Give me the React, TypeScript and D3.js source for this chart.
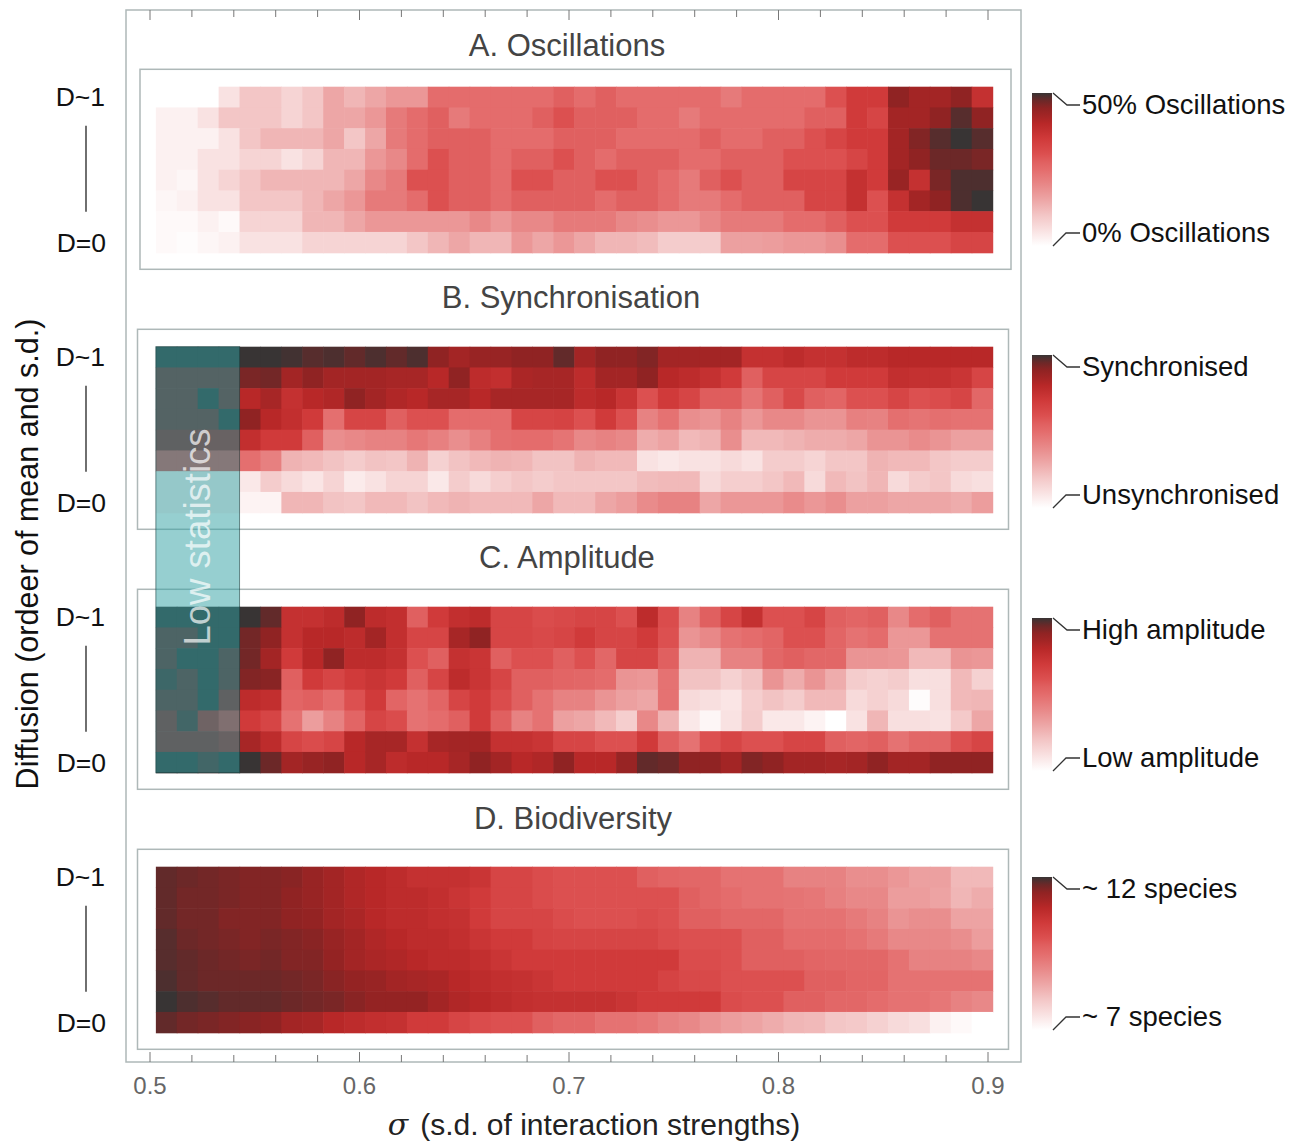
import React from "react";
import * as d3 from "d3";

// values on a 0..10 colour index (0 = white, 10 = dark grey), rows top (D~1) to bottom (D=0)
const oscillations = [
  [0, 0, 0, 1, 2, 2, 1.5, 2, 3, 2.5, 3, 3.5, 3.5, 5, 5, 5, 5, 5, 5, 5.5, 5, 5.5, 5, 5, 5, 5, 5, 4.5, 5, 5, 5, 5, 6, 7, 7, 9, 8.5, 8.5, 9, 7.5],
  [0.5, 0.5, 1, 2, 2, 2, 1.5, 2, 3, 3, 3.5, 4.5, 5, 5.5, 4.5, 5, 5, 5, 5.5, 6, 5.5, 5.5, 5.5, 5, 5, 4.5, 5, 5, 5, 5, 5, 5.5, 5.5, 7, 6.5, 8.5, 8.5, 9, 9.7, 9],
  [0.5, 0.5, 0.5, 1, 2, 2.5, 2.5, 2.5, 3, 2, 3, 4.5, 5, 5.5, 5.5, 5.5, 5, 5, 5, 5.5, 5.5, 5.5, 5, 5, 5, 5, 5.5, 5, 5, 5.5, 5.5, 6, 6.5, 7, 7, 8.5, 9.2, 9.7, 10, 9.7],
  [0.5, 0.5, 1, 1, 1.5, 1.5, 1, 1.5, 2.5, 2.5, 3.5, 4, 5, 6, 5.5, 5.5, 5, 5.5, 5.5, 6, 5.5, 5, 5.5, 5.5, 5.5, 5, 5, 5.5, 5.5, 5.5, 6, 6, 6, 6.5, 7, 8.5, 9, 9.5, 9.5, 9.3],
  [0.5, 0.3, 1, 1.5, 2, 2.5, 2.5, 2.5, 2.5, 3, 4, 4.5, 6, 6, 5.5, 5.5, 5, 6, 6, 5.5, 5.5, 6, 6, 5.5, 5, 4.5, 5.5, 6, 5.5, 5.5, 6.5, 6.5, 6.5, 7.5, 7, 8.8, 7.5, 9.3, 9.8, 9.8],
  [0.3, 0.5, 1, 1, 2, 2, 2, 2.5, 3, 3.5, 4.5, 4.5, 5, 6, 5.5, 5.5, 5, 5.5, 5.5, 5.5, 5.5, 5, 5.5, 5.5, 5, 4.5, 4.5, 5, 5.5, 5.5, 5.5, 6.5, 6.5, 7.5, 6, 7.5, 8.5, 9, 9.8, 10],
  [0.2, 0.2, 0.5, 0.2, 1.5, 1.5, 1.5, 2.5, 2.5, 3, 3.5, 3.5, 3.5, 3.5, 3.5, 4, 3.5, 4, 4, 4.5, 4.5, 4.5, 4, 3.8, 3.5, 3.5, 4, 4.5, 4.5, 4.5, 5, 5, 5.5, 6, 6, 7, 7, 7, 7.5, 7.5],
  [0.2, 0.1, 0.3, 0.5, 1, 1, 1, 1.5, 1.5, 1.5, 1.5, 1.5, 2, 2.5, 3, 2.5, 2.5, 3.5, 3, 3.5, 3, 2.5, 2.5, 2.3, 1.8, 1.8, 1.8, 3.2, 3.2, 3.3, 3.5, 3.5, 3.8, 5, 5, 6, 6, 6, 6.5, 6.5],
];

const synchronisation = [
  [10, 10, 10, 10, 10, 10, 9.9, 9.7, 9.8, 9.6, 9.8, 9.6, 9.8, 9, 8.5, 8.8, 8.8, 9, 9, 9.6, 8.5, 9, 9, 9.2, 8.5, 8.5, 8.5, 8.5, 7.5, 7.5, 7.8, 7.5, 7.5, 7.8, 7.8, 8, 8, 8, 8, 8],
  [9.3, 9.3, 9.3, 9.3, 9.3, 9.4, 8.5, 9, 8.5, 8.5, 8.5, 8.4, 8.4, 8, 9, 7.8, 7.6, 8.3, 8.4, 8.4, 7.8, 8.5, 8.5, 9, 8, 7.8, 7.5, 7, 5.5, 6.5, 6.5, 6.5, 7, 7, 7, 7.6, 7.5, 7.5, 7.3, 6.5],
  [9.3, 9.3, 10, 9.3, 8, 8.4, 7.5, 8, 8.2, 9, 8.5, 8.2, 8, 8.4, 8.4, 8, 8.4, 8.4, 8.4, 8.4, 7.8, 8, 7.3, 6, 7, 6.5, 5.6, 5.6, 4.7, 5.5, 6.3, 5.5, 5.3, 6, 6, 6.5, 6, 6.2, 6.5, 5.2],
  [9.3, 9.3, 9.3, 10, 9, 8, 7.6, 7, 4.9, 6.5, 6.5, 5.5, 6, 6, 5, 5, 5, 6.5, 6.5, 6.6, 6, 7, 6, 4.2, 4.8, 3.8, 3.6, 4.2, 3.5, 4, 4, 3.6, 3.6, 4.3, 4.2, 4.9, 4.7, 4.9, 4.8, 4.8],
  [9, 9, 8.5, 8.5, 7.6, 7, 7, 5.5, 3.8, 4, 4.2, 4.2, 4.6, 4.3, 3.8, 4.3, 4.9, 5, 5, 4.7, 4, 4.2, 4, 2.8, 3.1, 2.4, 2.6, 3.8, 2.4, 2.4, 2.6, 2.8, 2.8, 3, 3.6, 3.6, 3.9, 3.6, 3.2, 3.2],
  [6, 6, 6, 6, 4.9, 4.3, 2.6, 2.4, 2.1, 1.8, 2.1, 2, 2.6, 1.6, 2.1, 2.4, 2.6, 2.5, 2.1, 2.1, 2.6, 2.4, 2.4, 1, 0.8, 1, 1, 1.3, 1, 1.8, 1.8, 1.5, 2, 2, 2.6, 2.4, 2.4, 2, 1.8, 1.8],
  [0.5, 0.5, 0.5, 0.5, 0.8, 1.8, 1.3, 0.9, 1.5, 0.7, 1, 1.5, 1.5, 0.8, 1.8, 1.3, 1.7, 2, 1.8, 2, 2, 2, 2, 2.3, 2.4, 2.4, 1.3, 1.7, 1.7, 2, 2.4, 1.3, 2.4, 2.1, 2.5, 1.3, 1.8, 2, 1.3, 1.1],
  [0.5, 0.5, 0.5, 0.5, 0.4, 0.4, 2.5, 2.5, 2.1, 2, 2.4, 2.4, 2.1, 2.4, 2.6, 2.4, 2.4, 2.4, 3, 2.4, 2.4, 3, 3.3, 3.9, 4.2, 4.2, 3, 3.5, 3.5, 3.5, 3.9, 3.5, 3.8, 3.2, 3.2, 3, 3, 3, 2.8, 3.3],
];

const amplitude = [
  [10, 10, 10, 10, 10, 9.6, 7.5, 7.5, 7.8, 9, 7.8, 7.6, 5.5, 7, 7.6, 7.8, 6.5, 6.5, 6.2, 6.3, 6.5, 6.5, 6, 7.8, 6.2, 4.2, 5.5, 6.5, 7.5, 6, 6, 6.5, 5.5, 5.3, 5.5, 4, 5, 5.5, 4.8, 4.8],
  [9.5, 9.5, 10, 10, 9.4, 9, 7.5, 8, 8, 7.8, 8.5, 7.6, 6.5, 6.5, 8.4, 9, 6.5, 6.5, 6.3, 6.5, 7, 6.5, 6.5, 7, 6, 3.6, 4, 4.8, 5, 5.3, 6, 6, 5.3, 4.8, 5, 3.5, 3.5, 4.8, 4.8, 4.8],
  [9.5, 10, 10, 9.5, 9.4, 8.5, 7, 8, 9, 7.8, 7.8, 7.5, 6, 5.5, 7.5, 7.3, 5.5, 6, 6, 5.5, 6, 5.2, 6.5, 6.5, 5.5, 2.6, 2.6, 4.2, 4.2, 5.2, 5.5, 5.2, 5.2, 3.6, 3.6, 3.5, 2.4, 2.4, 3.6, 3.5],
  [9.8, 9.5, 10, 9.5, 9.2, 9.1, 5.5, 7, 6.5, 7, 7.3, 7, 5.5, 6.5, 7.8, 7.3, 6.5, 5.5, 5.5, 5.3, 5.2, 5, 3.6, 3.5, 4.8, 2.1, 2.1, 1.6, 2.1, 3.6, 2.8, 3.6, 2.8, 1.8, 1.6, 1.8, 1.1, 1.1, 2.4, 1.6],
  [9.5, 9.5, 10, 9, 7.8, 7.6, 5.3, 5.5, 5, 6, 7, 5.3, 4.8, 5.3, 6.5, 7, 6.2, 5.5, 4.8, 4.2, 4.2, 3.6, 3.2, 3, 4.8, 1.3, 1.1, 0.9, 1.7, 2.1, 1.8, 2.4, 2.4, 1.3, 1.6, 1.3, 0.1, 1.1, 2.4, 2.5],
  [9, 9.7, 8.2, 6.8, 7, 6.5, 4.8, 3.3, 4.2, 5.3, 6.5, 6.2, 4.8, 5, 5.5, 7, 5.5, 4.2, 4.8, 3.2, 3, 2.4, 1.7, 4, 2.6, 0.8, 0.3, 1, 1.8, 0.8, 0.8, 0.4, 0, 1, 2.5, 1.1, 1.1, 1, 1.9, 3],
  [9, 9, 9, 8.5, 8.4, 7.8, 6.5, 6.2, 6.5, 8, 8.4, 8.4, 7.5, 8.4, 8.5, 8.5, 7.5, 7.5, 7.3, 6.5, 6.5, 6, 6, 7, 5.5, 4.8, 6, 6.5, 6, 6, 6.5, 6.5, 5.5, 5.3, 5.5, 4.8, 5.2, 5.2, 6, 6.5],
  [10, 10, 9.7, 10, 10, 9.5, 8.5, 8.8, 9, 8, 8.4, 7.8, 8, 8, 8.4, 9, 8.5, 8, 8.2, 9, 8, 8, 8.8, 9.6, 9.5, 9, 9, 8.5, 9.2, 9, 8.5, 8.5, 8.4, 8.5, 9, 8.5, 8.5, 9, 9, 9],
];

const biodiversity = [
  [9.6, 9.5, 9.4, 9.3, 9.2, 9.2, 9.1, 8.8, 8.5, 8.2, 8, 7.8, 7.5, 7.5, 7.5, 7.3, 6.5, 6.5, 6.2, 6, 6, 6, 6, 5.5, 5.3, 5.2, 5.2, 4.8, 4.8, 4.8, 4.2, 4.2, 4.2, 3.8, 3.8, 3.5, 3.2, 3.2, 2.4, 2.4],
  [9.6, 9.4, 9.4, 9.3, 9.2, 9.2, 9, 8.8, 8.5, 8.2, 8, 7.8, 7.8, 7.6, 7.3, 7, 6.5, 6.5, 6.2, 6, 6, 6, 6, 6, 6, 5.5, 5.2, 5, 4.8, 4.8, 4.7, 4.6, 4.3, 4, 4, 3.3, 3.3, 3.1, 2.5, 2.8],
  [9.6, 9.4, 9.4, 9.2, 9.2, 9.2, 9, 8.9, 8.5, 8.3, 8, 7.8, 7.8, 7.6, 7.5, 7, 6.5, 6.5, 6.5, 6.2, 6, 6, 6, 6.2, 6, 5.5, 5.5, 5.2, 5.2, 5.2, 4.8, 4.8, 4.8, 4.5, 4.2, 3.6, 3.8, 3.8, 3.1, 3.1],
  [9.7, 9.5, 9.4, 9.3, 9.2, 9.3, 9.2, 9.1, 8.8, 8.5, 8.2, 8, 7.8, 7.8, 7.6, 7.3, 7, 7, 6.6, 6.5, 6.5, 6.5, 6.5, 6.5, 6.2, 6, 6, 6, 5.5, 5.5, 5, 5, 5, 4.8, 4.5, 4, 4, 4, 3.8, 3.3],
  [9.7, 9.6, 9.5, 9.4, 9.3, 9.4, 9.2, 9.2, 8.9, 8.5, 8.3, 8.2, 8, 7.8, 7.8, 7.6, 7.3, 7, 7, 7, 7, 7, 7, 7, 7, 6.2, 6.2, 6, 5.5, 5.5, 5.5, 5.3, 5.2, 5.2, 5.2, 4.8, 4.2, 4.2, 4.2, 4],
  [9.8, 9.6, 9.5, 9.5, 9.5, 9.5, 9.4, 9.3, 9.1, 8.9, 8.8, 8.5, 8.4, 8.3, 8, 7.8, 7.6, 7.5, 7.3, 7, 7, 7, 7, 7, 6.6, 6.3, 6.3, 6, 6, 6, 6, 5.5, 5.5, 5.3, 5.3, 4.8, 4.8, 4.8, 4.8, 4.8],
  [10, 9.8, 9.7, 9.6, 9.6, 9.6, 9.5, 9.4, 9.3, 9.1, 8.9, 8.9, 8.9, 8.5, 8.2, 8, 7.8, 7.6, 7.5, 7.5, 7.5, 7.5, 7.3, 7, 7, 7, 7, 6.2, 6, 6, 5.5, 5.5, 5.2, 5.2, 5, 4.8, 4.8, 4.6, 4.2, 4],
  [9.6, 9.4, 9.3, 9.2, 9.1, 9, 8.5, 8.4, 8, 7.8, 7.6, 7.5, 7, 7, 6.5, 6.2, 6, 6, 5.5, 5.2, 5.2, 4.8, 4.8, 4.6, 4.2, 4, 3.6, 3.3, 3.1, 2.8, 2.5, 2.4, 2, 1.9, 1.6, 1.3, 1.1, 0.5, 0.2, 0],
];

const panelTitles = ["A. Oscillations", "B. Synchronisation", "C. Amplitude", "D. Biodiversity"];
const legendHigh = ["50% Oscillations", "Synchronised", "High amplitude", "~ 12 species"];
const legendLow = ["0% Oscillations", "Unsynchronised", "Low amplitude", "~ 7 species"];
const sigmaTicks = [0.5, 0.6, 0.7, 0.8, 0.9];
const minorTicks = d3.range(0.5, 0.9001, 0.02);

const colorStops = [0, 1, 2, 3, 4, 5, 5.5, 6, 7, 8, 8.5, 9, 9.5, 10];
const colorRange = ["#ffffff", "#f9e2e2", "#f3c6c6", "#eda6a6", "#e88888", "#e46c6c", "#e06060", "#dc5050", "#d03a3a", "#b82828", "#a32525", "#902323", "#6c2828", "#383434"];

const panels = [oscillations, synchronisation, amplitude, biodiversity];
const gridTops = [86.7, 346.7, 606.7, 866.7];
const titleYs = [45, 297, 557, 818];
const titleXs = [567, 571, 567, 573];
const frameXs = [140, 137.5, 137.5, 137.5];
const legendTops = [93, 355, 618, 877];

const font = "'Liberation Sans', Arial, sans-serif";
const frameColor = "#aeb8b8";

export default function App() {
  const color = d3.scaleLinear<string>().domain(colorStops).range(colorRange).interpolate(d3.interpolateRgb);
  const x = d3.scaleLinear().domain([0.5, 0.9]).range([150, 988]);
  const cols = d3.scaleBand<number>().domain(d3.range(40)).range([x(0.5028), x(0.9022)]);
  const gridH = 166;
  const legendH = 153;
  // gradient stops must run top (high) -> bottom (low) with increasing offsets
  const gradStops = colorStops.map((v, i) => ({ offset: (10 - v) / 10, c: colorRange[i] })).reverse();

  return (
    <svg width={1303} height={1143} style={{ display: "block", position: "absolute", left: 0, top: 0 }}>
      <defs>
        <linearGradient id="legendGrad" x1="0" y1="0" x2="0" y2="1">
          {gradStops.map((s, i) => (
            <stop key={i} offset={s.offset} stopColor={s.c} />
          ))}
        </linearGradient>
      </defs>
      <rect width={1303} height={1143} fill="#fff" />

      {/* outer frame + ticks */}
      <rect x={126} y={10} width={895} height={1052} fill="none" stroke={frameColor} strokeWidth={1.5} />
      {minorTicks.map((t, i) => {
        const major = sigmaTicks.some(s => Math.abs(s - t) < 1e-6);
        const len = major ? 10 : 7;
        return (
          <g key={i} stroke="#777" strokeWidth={1}>
            <line x1={x(t)} x2={x(t)} y1={10} y2={10 + len} />
            <line x1={x(t)} x2={x(t)} y1={1062} y2={1062 - len} />
          </g>
        );
      })}
      {sigmaTicks.map(t => (
        <text key={t} x={x(t)} y={1085} textAnchor="middle" dominantBaseline="central" fontSize={24}
          fill="#666" fontFamily="'Liberation Sans Narrow', 'Liberation Sans', sans-serif">
          {t.toFixed(1)}
        </text>
      ))}
      <text x={594} y={1124} textAnchor="middle" dominantBaseline="central" fontSize={30} fontFamily={font} fill="#222">
        <tspan fontStyle="italic" fontFamily="'DejaVu Serif', serif">σ</tspan>
        <tspan dx={12}>(s.d. of interaction strengths)</tspan>
      </text>
      <text transform="translate(27,554) rotate(-90)" textAnchor="middle" dominantBaseline="central" fontSize={30.5}
        fontFamily={font} fill="#111">
        Diffusion (ordeer of mean and s.d.)
      </text>

      {panels.map((data, p) => {
        const top = gridTops[p];
        const rows = d3.scaleBand<number>().domain(d3.range(data.length)).range([top, top + gridH]);
        const lt = legendTops[p];
        const lb = lt + legendH;
        return (
          <g key={p}>
            <text x={titleXs[p]} y={titleYs[p]} textAnchor="middle" dominantBaseline="central" fontSize={31}
              fontFamily={font} fill="#444">
              {panelTitles[p]}
            </text>
            <rect x={frameXs[p]} y={top - 17.4} width={871} height={200} fill="#fff" stroke={frameColor} strokeWidth={1.5} />
            {data.map((row, r) =>
              row.map((v, c) => (
                <rect key={`${r}-${c}`} x={cols(c)!} y={rows(r)!} width={cols.bandwidth() + 0.6}
                  height={rows.bandwidth() + 0.6} fill={color(v)} />
              ))
            )}
            {/* y labels */}
            <text x={105} y={top + 10} textAnchor="end" dominantBaseline="central" fontSize={26.5} fontFamily={font} fill="#111">D~1</text>
            <line x1={86} x2={86} y1={top + 39} y2={top + 125} stroke="#222" strokeWidth={1.3} />
            <text x={106} y={top + 156.5} textAnchor="end" dominantBaseline="central" fontSize={26.5} fontFamily={font} fill="#111">D=0</text>
            {/* legend */}
            <rect x={1032} y={lt} width={20} height={legendH} fill="url(#legendGrad)" />
            <polyline points={`1053,${lt} 1067,${lt + 12} 1080,${lt + 12}`} fill="none" stroke="#333" strokeWidth={1.3} />
            <polyline points={`1053,${lb} 1066,${lb - 13} 1080,${lb - 13}`} fill="none" stroke="#333" strokeWidth={1.3} />
            <text x={1082} y={lt + 11} dominantBaseline="central" fontSize={27.5} fontFamily={font} fill="#111">{legendHigh[p]}</text>
            <text x={1082} y={lb - 14} dominantBaseline="central" fontSize={27.5} fontFamily={font} fill="#111">{legendLow[p]}</text>
          </g>
        );
      })}

      {/* low statistics overlay */}
      <rect x={cols(0)!} y={gridTops[1]} width={cols.bandwidth() * 4} height={gridTops[2] + gridH - gridTops[1]}
        fill="#2d9fa1" fillOpacity={0.5} stroke="#1d4444" strokeOpacity={0.6} strokeWidth={1} />
      <text transform={`translate(${cols(0)! + cols.bandwidth() * 2},537) rotate(-90)`} textAnchor="middle"
        dominantBaseline="central" fontSize={36.5} fontFamily={font} fill="#fff" fillOpacity={0.7}>
        Low statistics
      </text>
    </svg>
  );
}
